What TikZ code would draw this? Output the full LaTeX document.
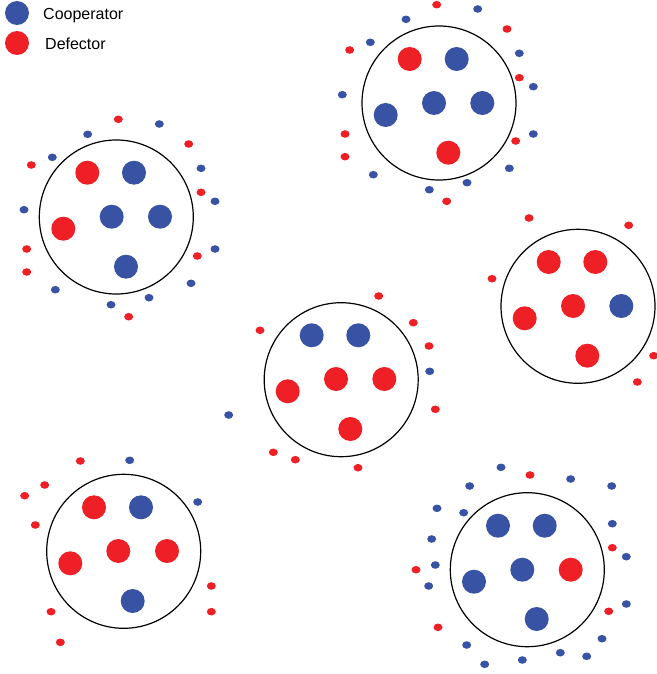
\documentclass[tikz,border=0pt]{standalone}
\usepackage{fontspec}
\setmainfont{Liberation Sans}
\usetikzlibrary{shapes.geometric}
\definecolor{coop}{RGB}{57,83,164}
\definecolor{defe}{RGB}{238,32,37}
\tikzset{
  big/.style={circle,inner sep=0pt,minimum size=24pt,draw=none},
  small/.style={ellipse,inner sep=0pt,minimum width=9pt,minimum height=7.6pt,draw=none},
  group/.style={circle,draw=black,line width=1.2pt,inner sep=0pt,minimum size=154pt},
  legend/.style={anchor=base west,font=\fontsize{16}{18}\selectfont,inner sep=0pt}
}
\begin{document}
\begin{tikzpicture}[x=1pt,y=-1pt]
\useasboundingbox (0,0) rectangle (656,674);
% legend
\node[big,fill=coop] (legC) at (17,13) {};
\node[big,fill=defe] (legD) at (17,43) {};
\node[legend] (legCt) at (43,19.3) {Cooperator};
\node[legend] (legDt) at (45,49.3) {Defector};
% group circles
\foreach \x/\y [count=\i] in {116.3/217, 439/103, 578/306.3, 341.2/379.7, 123.7/551.3, 527.3/569.7}
  \node[group] (g\i) at (\x,\y) {};
% large cooperators
\foreach \x/\y [count=\i] in {
  134/172.7, 111.7/216.7, 160/216.7, 126/266.7,
  456.7/59, 434/103, 482.3/103, 385.7/115,
  621.3/306,
  311.7/335.3, 358.3/335.3,
  141/507.3, 132.7/601,
  498/525.7, 544.7/525.7, 522.3/569.7, 474/581.7, 536.7/619}
  \node[big,fill=coop] (lc\i) at (\x,\y) {};
% large defectors
\foreach \x/\y [count=\i] in {
  87.3/172.7, 63.3/228.7,
  409.7/59, 448.3/152.7,
  548.7/262, 595.3/262, 573/306, 524.7/318.3, 587.3/355.7,
  336/379, 384.3/379, 287.7/391.3, 350.3/429,
  94/507.3, 118.3/551, 167/551, 70.3/563.3,
  570.7/569.7}
  \node[big,fill=defe] (ld\i) at (\x,\y) {};
% small cooperators
\foreach \x/\y [count=\i] in {
  159.3/124, 87.7/134.3, 52.3/157.3, 201/168.3, 215/201.3, 24/209.7, 215/249, 55.3/289.7, 191/283.3, 149/297.7, 111/304.7,
  477.7/9, 406/19.3, 370.3/42.3, 519.3/53.3, 533.3/86.7, 342.3/94.7, 533.3/134, 373.3/174.7, 509.3/168.3, 467/182.7, 429.3/189.7,
  429.7/371.3, 228.7/415,
  129.7/460.3, 197.7/502,
  501/467.3, 570.7/479, 469.7/486, 611.7/486, 437/508.3, 463.7/512.7, 612.3/523.7, 431.7/539, 626.3/556.7, 435.3/565, 428.7/586, 626.3/604, 602/638.7, 466.7/645, 586.7/656.3, 560.3/652.7, 522.3/660, 484.7/664.3}
  \node[small,fill=coop] (sc\i) at (\x,\y) {};
% small defectors
\foreach \x/\y [count=\i] in {
  118.3/119.3, 188.7/144, 31.3/165, 201/192.3, 26.7/249, 197.3/256, 26.7/272, 128.7/316.7,
  436.7/4.7, 507/29, 349.7/50, 519.3/77.7, 345/134, 515.7/141, 345/156.7, 446.7/201.3,
  529/218, 628.7/225.3, 492/278.7, 653.7/355.7, 637.3/382,
  378.7/296, 413.3/322.7, 260/330.3, 429/346, 435.3/409.3, 273.3/452.3, 295.3/459.7, 358/467.7,
  80.3/461, 44.7/485, 24.7/495.7, 35.3/525, 211.3/586, 51/611.7, 211.3/611.7, 60.3/642.3,
  530/475, 612.3/547.7, 416/569.7, 608.7/611.3, 438/627.3}
  \node[small,fill=defe] (sd\i) at (\x,\y) {};
\end{tikzpicture}
\end{document}
